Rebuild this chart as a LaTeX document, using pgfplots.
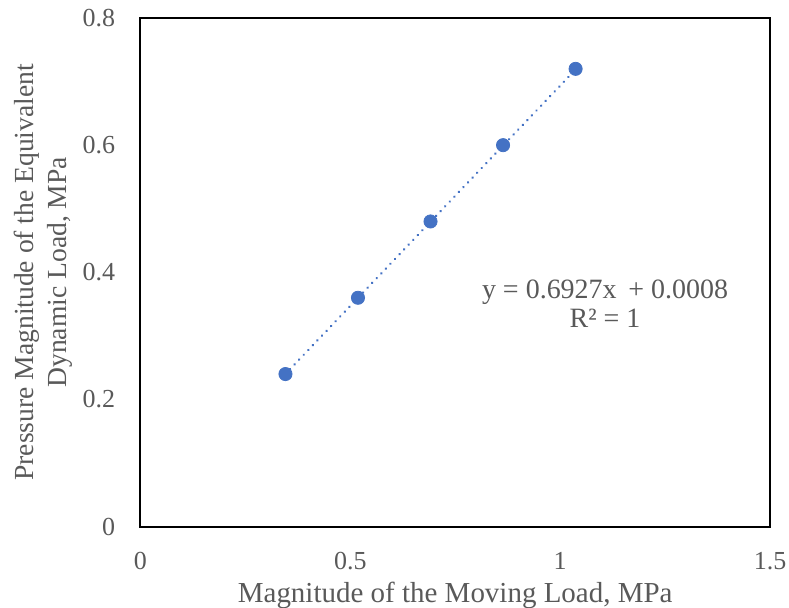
\documentclass[border=0pt]{standalone}
\usepackage{pgfplots}
\pgfplotsset{compat=1.18}
\usepackage{fontspec}
\setmainfont{Liberation Serif}
\definecolor{txt}{HTML}{595959}
\definecolor{pt}{HTML}{4472C4}
\begin{document}
\begin{tikzpicture}
\begin{axis}[
  scale only axis,
  width=315pt, height=254.5pt,
  at={(0,0)}, anchor=south west,
  xmin=0, xmax=1.5, ymin=0, ymax=0.8,
  xtick={0,0.5,1,1.5},
  ytick={0,0.2,0.4,0.6,0.8},
  xticklabels={0,0.5,1,1.5},
  yticklabels={0,0.2,0.4,0.6,0.8},
  major tick length=0pt,
  axis line style={black, line width=1pt},
  tick label style={font=\fontsize{13}{15}\selectfont, text=txt, inner sep=0pt},
  xticklabel style={yshift=-12.5pt},
  yticklabel style={xshift=-12.5pt},
  label style={text=txt, inner sep=0pt},
  xlabel={Magnitude of the Moving Load, MPa},
  ylabel={Pressure Magnitude of the Equivalent\\Dynamic Load, MPa},
  xlabel style={font=\fontsize{14.5}{16.5}\selectfont, at={([yshift=-27.5pt]axis description cs:0.5,0)}, anchor=north},
  ylabel style={font=\fontsize{13.8}{16.5}\selectfont, align=center, at={([xshift=-63.5pt]axis description cs:0,0.5)}, anchor=north},
  clip=false,
]
\addplot[pt, line width=1.35pt, line cap=round, dash pattern=on 0.01pt off 3.3pt] coordinates {(0.3456,0.2402) (1.0368,0.7190)};
\addplot[only marks, mark=*, mark size=3.3pt, mark options={fill=pt, draw=pt}] coordinates {
(0.3456,0.24) (0.5184,0.36) (0.6912,0.48) (0.864,0.60) (1.0368,0.72)};
\node[text=txt, font=\fontsize{14}{14.5}\selectfont, align=center] at (axis cs:1.107,0.35) {y = 0.6927x \,+ 0.0008\\R² = 1};
\end{axis}
\pgfresetboundingbox
\path[use as bounding box] (-70.25pt,-40.5pt) rectangle (324.5pt,263.5pt);
\end{tikzpicture}
\end{document}
